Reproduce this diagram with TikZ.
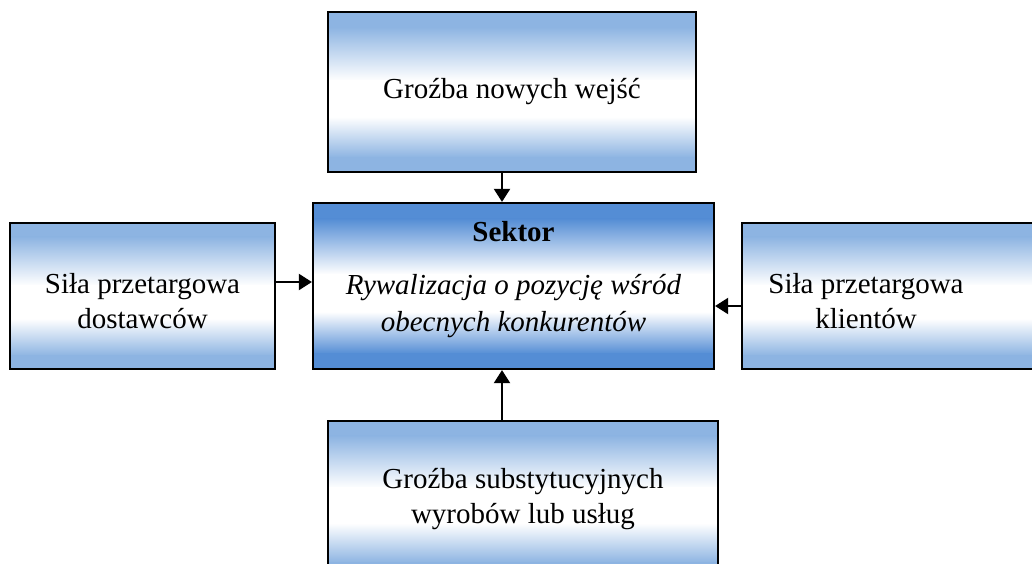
\documentclass[tikz,border=0pt]{standalone}
\usepackage{fontspec}
\setmainfont{Liberation Serif}
\usetikzlibrary{arrows.meta,calc}

\definecolor{paleblue}{RGB}{141,180,226}
\definecolor{deepblue}{RGB}{84,141,213}

% fill of a box: solid blue band on top, fade to white a little below the
% middle, white band, fade back to a solid blue band at the bottom
\tikzset{
  fade/.style={path picture={
    \coordinate (nw) at (path picture bounding box.north west);
    \coordinate (ne) at (path picture bounding box.north east);
    \coordinate (sw) at (path picture bounding box.south west);
    \coordinate (se) at (path picture bounding box.south east);
    \fill[#1] (nw) rectangle ($(ne)!0.10!(se)$);
    \fill[top color=#1, bottom color=white] ($(nw)!0.095!(sw)$) rectangle ($(ne)!0.43!(se)$);
    \fill[white] ($(nw)!0.425!(sw)$) rectangle ($(ne)!0.66!(se)$);
    \fill[top color=white, bottom color=#1] ($(nw)!0.655!(sw)$) rectangle ($(ne)!0.91!(se)$);
    \fill[#1] ($(nw)!0.905!(sw)$) rectangle (se);
  }},
  forcebox/.style={draw=black, line width=2.2pt, rectangle, inner sep=0pt, fade=paleblue},
  corebox/.style={draw=black, line width=2.2pt, rectangle, inner sep=0pt, fade=deepblue},
  boxtext/.style={align=center, font=\fontsize{29}{35}\selectfont, inner sep=0pt},
  push/.style={line width=2pt, -{Triangle[length=13pt,width=16pt]}}
}

\begin{document}
\begin{tikzpicture}[x=1pt,y=-1pt]
  \useasboundingbox (0,0) rectangle (1032,563);
  \clip (0,0) rectangle (1032,563);

  % boxes
  \node[forcebox, minimum width=368pt, minimum height=160pt] (entry) at (512,92) {};
  \node[forcebox, minimum width=265pt, minimum height=146pt] (supply) at (142.5,296) {};
  \node[corebox, minimum width=401pt, minimum height=166pt] (sector) at (513.5,286) {};
  \node[forcebox, minimum width=310pt, minimum height=146pt] (buyers) at (897,296) {};
  \node[forcebox, minimum width=390pt, minimum height=156pt] (subst) at (523,499) {};

  % labels
  \node[boxtext] (entrytxt) at (512,92) {Groźba nowych wejść};
  \node[boxtext] (supplytxt) at (142.5,301) {Siła przetargowa\\dostawców};
  \node[boxtext] (buyerstxt) at (866,301) {Siła przetargowa\\klientów};
  \node[boxtext] (substtxt) at (523,499) {Groźba substytucyjnych\\wyrobów lub usług};
  \node[boxtext, font=\fontsize{29}{35}\selectfont\bfseries] (sectortitle) at (513.5,232) {Sektor};
  \node[boxtext, font=\fontsize{29}{37}\selectfont\itshape] (sectortxt) at (513.5,306) {Rywalizacja o pozycję wśród\\obecnych konkurentów};

  % connector heights and column
  \coordinate (vcol) at (502,0);
  \coordinate (lrow) at (0,282);
  \coordinate (rrow) at (0,306);

  % arrows into the sector
  \draw[push] (entry.south -| vcol) -- (sector.north -| vcol);
  \draw[push] (subst.north -| vcol) -- (sector.south -| vcol);
  \draw[push] (supply.east |- lrow) -- (sector.west |- lrow);
  \draw[push] (buyers.west |- rrow) -- (sector.east |- rrow);
\end{tikzpicture}
\end{document}
